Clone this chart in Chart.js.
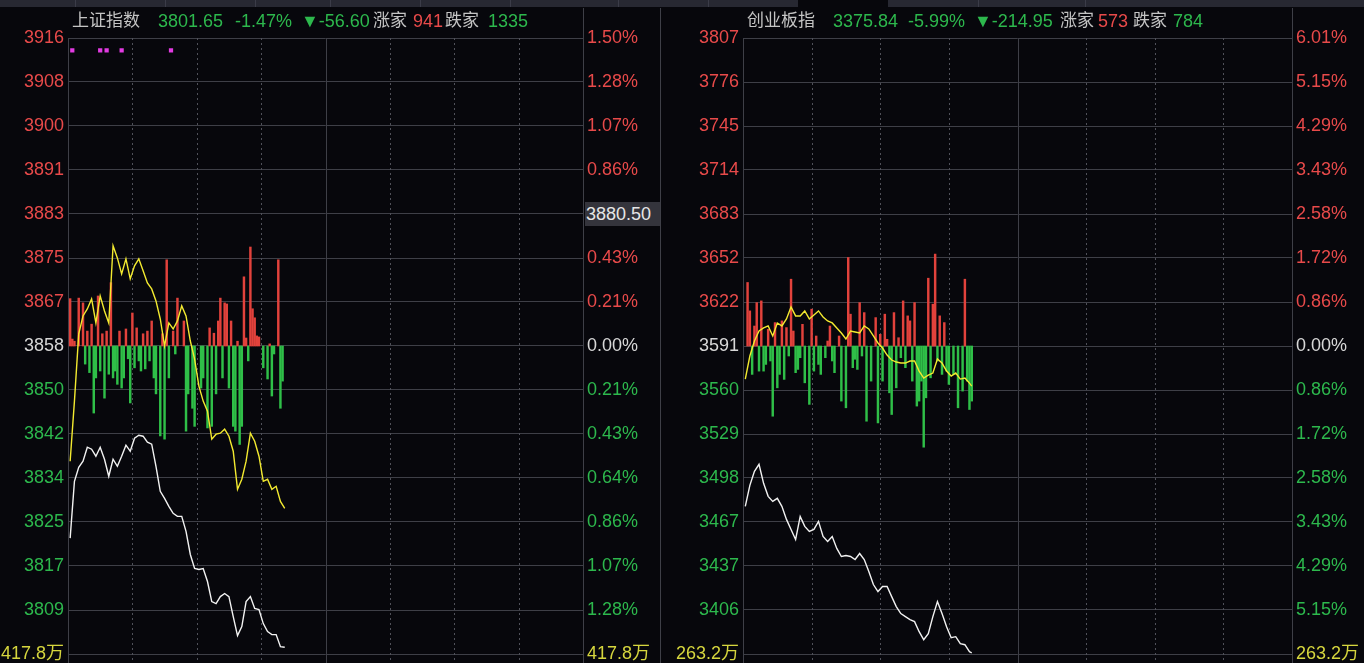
<!DOCTYPE html>
<html>
<head>
<meta charset="utf-8">
<script src="https://cdn.jsdelivr.net/npm/chart.js@4.4.1/dist/chart.umd.min.js"></script>
<style>
  html, body { margin:0; padding:0; background:#07070c; overflow:hidden; }
  #wrap { position:relative; width:1364px; height:663px; background:#07070c; overflow:hidden;
          font-family:"Liberation Sans","Noto Sans CJK SC",sans-serif; }
  .toolbar { position:absolute; left:0; top:0; width:1364px; height:7px; background:#272832; }
  .toolbar .sep { position:absolute; top:0; width:1px; height:7px; background:#3b3c48; }
  .toolbar .tab { position:absolute; top:0; height:7px; background:#07070c; }
  canvas { position:absolute; top:0; }
  .vline { position:absolute; top:8px; width:1px; height:655px; background:#3e3f47; }
  .hdr { position:absolute; top:10px; font-size:18px; line-height:22px; white-space:nowrap; }
  .hdr.w { font-size:17px; }
  .g { color:#2db84d; } .r { color:#e84a4a; } .w { color:#c4c4c4; }
  .cross { position:absolute; left:585px; top:202px; width:75px; height:24px; background:#34343c;
           color:#e6e6e6; font-size:18px; line-height:24px; padding-left:1px; box-sizing:border-box; }
</style>
</head>
<body>
<div id="wrap">
  <div class="toolbar">
    <div class="sep" style="left:75px"></div><div class="sep" style="left:165px"></div>
    <div class="sep" style="left:255px"></div><div class="sep" style="left:330px"></div>
    <div class="sep" style="left:420px"></div><div class="sep" style="left:510px"></div>
    <div class="sep" style="left:618px"></div><div class="sep" style="left:708px"></div>
    <div class="tab" style="left:798px;width:90px"></div>
    <div class="sep" style="left:978px"></div><div class="sep" style="left:1085px"></div>
  </div>

  <canvas id="shChart" width="660" height="680" style="left:0"></canvas>
  <canvas id="cyChart" width="704" height="680" style="left:660px"></canvas>
  <div class="vline" style="left:660px"></div>

  <!-- 上证指数 header -->
  <span class="hdr w" style="left:72px">上证指数</span>
  <span class="hdr g" style="left:158px">3801.65</span>
  <span class="hdr g" style="left:235px">-1.47%</span>
  <span class="hdr g" style="left:301px">▼-56.60</span>
  <span class="hdr w" style="left:373px">涨家</span>
  <span class="hdr r" style="left:413px">941</span>
  <span class="hdr w" style="left:445px">跌家</span>
  <span class="hdr g" style="left:488px">1335</span>

  <!-- 创业板指 header -->
  <span class="hdr w" style="left:747px">创业板指</span>
  <span class="hdr g" style="left:833px">3375.84</span>
  <span class="hdr g" style="left:908px">-5.99%</span>
  <span class="hdr g" style="left:974px">▼-214.95</span>
  <span class="hdr w" style="left:1060px">涨家</span>
  <span class="hdr r" style="left:1098px">573</span>
  <span class="hdr w" style="left:1133px">跌家</span>
  <span class="hdr g" style="left:1173px">784</span>

  <div class="cross">3880.50</div>
</div>

<script>
/* ════════════════════════════
   DATA — 上证指数
════════════════════════════ */
const SH_PREV = 3858.25;
const SH_TOP_PCT = 1.50;
const SH_MIN = [1,3,5,7,9,11,13,15,17,19,21,23,25,27,29,31,33,35,37,39,41,43,45,47,49,51,
  53,55,57,59,61,63,65,67,69,71,73,75,77,79,81,83,85,87,89,91,93,95,97,99,101];
const SH_PRICE = [3822.15,3832.83,3835.47,3836.60,3839.23,3838.86,3837.54,3839.23,3836.97,3833.77,
  3836.97,3835.65,3837.54,3839.61,3838.48,3840.93,3841.49,3841.30,3840.17,3839.80,
  3835.65,3830.95,3829.63,3828.12,3826.80,3826.24,3826.24,3823.41,3819.08,3816.45,
  3816.26,3816.45,3814.00,3810.23,3809.86,3811.17,3811.74,3811.17,3807.41,3803.83,
  3805.53,3810.23,3811.17,3808.92,3808.73,3806.09,3804.58,3804.02,3804.02,3801.76,3801.65];
const SH_AVG = [3836.60,3847.89,3860.51,3863.90,3865.22,3867.10,3862.58,3867.67,3864.84,3862.58,
  3877.08,3874.80,3871.80,3874.63,3870.87,3873.31,3874.63,3872.37,3870.11,3868.98,
  3866.72,3863.33,3858.25,3862.58,3861.45,3862.96,3865.78,3863.90,3859.19,3855.80,
  3850.72,3847.89,3846.01,3840.74,3841.68,3841.87,3842.62,3841.30,3838.48,3831.32,
  3833.21,3836.60,3841.87,3840.36,3837.54,3832.83,3833.21,3831.32,3831.89,3829.06,3827.75];
const SH_BAR_MIN = [1,2,3,5,7,8,9,10,11,12,13,14,15,16,17,18,19,20,21,22,23,24,25,26,27,28,29,30,
  31,32,33,34,35,36,37,38,39,40,41,43,44,45,46,47,49,50,51,54,55,56,58,59,62,63,65,66,67,68,69,70,
  71,72,73,74,75,76,77,78,79,80,81,82,83,84,85,86,87,88,89,91,93,94,95,96,98,99,100];
const SH_BAR_VAL = [8.9,1.3,0.9,9.0,8.1,-3.4,2.8,-5.0,4.1,-12.6,-6.0,9.4,-4.7,2.3,-9.8,2.8,-5.3,11.9,
  -6.0,-4.7,-7.2,2.8,-7.9,-6.0,3.2,-2.4,-10.7,6.2,-4.1,3.4,-2.8,-4.7,2.3,-4.3,2.8,-2.8,4.7,-6.0,-9.0,
  -16.9,2.3,-17.5,16.2,-6.0,2.8,-1.5,9.0,4.7,-16.0,-9.0,-11.7,-15.1,-7.9,-6.0,-15.4,3.4,-15.1,2.4,
  -9.0,4.7,9.0,-6.0,8.1,7.9,-7.9,4.7,-15.1,-16.0,0.9,-18.5,-15.1,13.0,1.5,-2.8,18.6,7.0,5.3,1.9,1.7,
  -4.1,-6.2,0.4,-9.4,-1.5,16.2,-11.7,-6.6];
const SH_MARK_MIN = [2,15,18,25,48];
const SH_MARK_VAL = [3913.8,3913.8,3913.8,3913.8,3913.8];
const SH_LEFT_LABELS = ['3916','3908','3900','3891','3883','3875','3867','3858',
  '3850','3842','3834','3825','3817','3809','417.8万'];
const SH_RIGHT_LABELS = ['1.50%','1.28%','1.07%','0.86%','0.64%','0.43%','0.21%','0.00%',
  '0.21%','0.43%','0.64%','0.86%','1.07%','1.28%','417.8万'];

/* ════════════════════════════
   DATA — 创业板指
════════════════════════════ */
const CY_PREV = 3590.79;
const CY_TOP_PCT = 6.01;
const CY_MIN = [1,3,5,7,9,11,13,15,17,19,21,23,25,27,29,31,33,35,37,39,41,43,45,47,49,51,
  53,55,57,59,61,63,65,67,69,71,73,75,77,79,81,83,85,87,89,91,93,95,97,99,100];
const CY_PRICE = [3478.42,3493.17,3503.00,3507.92,3494.57,3485.44,3481.93,3484.04,3478.42,3469.29,
  3462.27,3455.25,3471.40,3464.38,3460.86,3462.27,3467.89,3457.35,3453.84,3457.35,
  3448.93,3443.31,3444.01,3443.31,3441.20,3445.41,3441.20,3432.77,3423.64,3418.73,
  3422.24,3422.24,3415.21,3408.19,3403.28,3401.17,3399.06,3397.66,3390.63,3385.02,
  3389.23,3401.17,3411.70,3403.28,3394.15,3386.42,3387.12,3382.21,3381.50,3376.59,3375.84];
const CY_AVG = [3567.61,3583.77,3594.30,3601.32,3603.43,3604.84,3597.81,3606.94,3604.84,3609.75,
  3618.18,3611.86,3611.86,3615.37,3609.75,3612.56,3615.37,3611.16,3608.35,3606.94,
  3603.43,3599.92,3595.71,3601.32,3600.62,3599.92,3604.84,3602.73,3597.81,3592.90,
  3589.39,3584.47,3580.96,3579.55,3578.85,3578.85,3580.26,3580.26,3573.23,3568.32,
  3570.42,3571.83,3581.66,3578.85,3573.23,3569.72,3571.83,3567.61,3568.32,3564.80,3562.70];
const CY_BAR_MIN = [2,3,4,5,6,7,8,9,10,11,12,13,14,15,16,17,18,19,20,21,22,23,24,25,26,27,29,30,31,
  32,33,34,36,37,38,39,40,42,43,45,46,47,48,49,50,51,52,53,54,56,58,59,60,61,62,63,64,65,66,67,68,
  69,70,71,72,73,74,75,76,77,78,79,80,81,82,83,84,85,86,87,88,89,90,92,94,96,97,98,99,100];
const CY_BAR_VAL = [44.5,24.6,-19.9,14.0,30.4,-17.6,31.6,-17.6,-12.9,11.7,-10.5,-49.2,16.4,-29.3,
  -19.9,17.6,-23.4,12.9,-7.0,46.8,10.5,-18.7,-16.4,-8.2,15.2,-25.8,-40.9,25.8,-17.6,7.0,-12.9,-19.9,
  -8.2,3.5,14.0,-10.5,-18.7,7.0,-38.6,-43.3,62.0,22.3,-15.2,-9.3,-16.4,30.4,-7.0,23.4,-52.7,-24.6,
  19.9,-53.9,8.2,-24.6,22.3,4.7,-32.8,-48.0,23.4,-29.3,5.8,-8.2,31.6,-15.2,21.1,17.6,-24.6,30.4,
  -42.1,-38.6,-24.6,-70.9,-36.3,47.5,-22.3,29.3,64.4,-10.5,21.1,-19.9,16.4,-17.6,-26.9,-19.9,-43.3,
  -31.6,46.8,-24.6,-44.5,-38.6];
const CY_LEFT_LABELS = ['3807','3776','3745','3714','3683','3652','3622','3591',
  '3560','3529','3498','3467','3437','3406','263.2万'];
const CY_RIGHT_LABELS = ['6.01%','5.15%','4.29%','3.43%','2.58%','1.72%','0.86%','0.00%',
  '0.86%','1.72%','2.58%','3.43%','4.29%','5.15%','263.2万'];

// trading minutes, grid every 30 min, noon break at 120
const GRID_MIN = [0,30,60,90,120,150,180,210,240];

/* ════════════════════════════
   COLOURS
════════════════════════════ */
const C_RED = '#e84a4a', C_GREEN = '#2db84d', C_WHITE = '#d8d8d8', C_YELLOW = '#d6d63e';
const BAR_RED = '#e2423c', BAR_GREEN = '#2fbf48';
const GRID = '#3e3f47';
const FONT = '"Liberation Sans","Noto Sans CJK SC",sans-serif';

function labelColor(i) {          // i counts top-to-bottom
  if (i < 7) return C_RED;
  if (i === 7) return C_WHITE;
  if (i < 14) return C_GREEN;
  return C_YELLOW;
}

const frameLines = {
  id: 'frameLines',
  beforeDatasetsDraw(chart) {
    const { ctx, chartArea: a, scales: { x } } = chart;
    ctx.save();
    ctx.lineWidth = 1;
    GRID_MIN.forEach(m => {
      const px = Math.round(x.getPixelForValue(m)) + 0.5;
      const solid = m === 0 || m === 120 || m === 240;
      ctx.strokeStyle = solid ? GRID : '#50515a';
      ctx.setLineDash(solid ? [] : [2, 3]);
      ctx.beginPath();
      ctx.moveTo(px, m === 240 ? 8 : a.top);
      ctx.lineTo(px, chart.height);
      ctx.stroke();
    });
    ctx.restore();
  }
};

function makeChart(id, p) {
  const ticks = [];
  for (let k = -7; k <= 7; k++) ticks.push(p.prev * (1 + p.topPct / 100 * k / 7));
  const yMin = ticks[0], yMax = ticks[14];

  const barData = p.barMin.map((m, i) => ({ x: m, y: [p.prev, p.prev + p.barVal[i]] }));
  const barCols = p.barVal.map(v => v >= 0 ? BAR_RED : BAR_GREEN);

  const datasets = [
    { type: 'line', data: p.min.map((m, i) => ({ x: m, y: p.price[i] })),
      borderColor: '#f2f2f2', borderWidth: 1.4, pointRadius: 0, tension: 0, order: 1 },
    { type: 'line', data: p.min.map((m, i) => ({ x: m, y: p.avg[i] })),
      borderColor: '#f3ea30', borderWidth: 1.4, pointRadius: 0, tension: 0, order: 2 },
    { type: 'bar', data: barData, backgroundColor: barCols, barThickness: 1.8,
      borderWidth: 0, order: 3 },
  ];
  if (p.markMin) {
    datasets.push({ type: 'scatter', data: p.markMin.map((m, i) => ({ x: m, y: p.markVal[i] })),
      pointStyle: 'rect', pointRadius: 3, backgroundColor: '#e23be2', borderWidth: 0, order: 0 });
  }

  const yTicks = s => { s.ticks = ticks.map(v => ({ value: v })); };

  new Chart(document.getElementById(id), {
    type: 'bar',
    data: { datasets },
    options: {
      responsive: false, animation: false, events: [],
      // canvas is 680 tall (clipped at 663); chart area runs 38 → 652
      layout: { padding: { top: 38, bottom: 26, left: 0, right: 0 } },
      plugins: { legend: { display: false }, tooltip: { enabled: false } },
      scales: {
        x: { type: 'linear', min: 0, max: 240, display: false, offset: false },
        y: {
          position: 'left', min: yMin, max: yMax,
          afterBuildTicks: yTicks,
          afterFit: s => { s.width = p.leftW; },
          border: { display: false },
          grid: { color: GRID, lineWidth: 1, drawTicks: false },
          ticks: {
            autoSkip: false, padding: 4,
            font: { family: FONT, size: 18 },
            color: c => labelColor(14 - c.index),
            callback: (v, i) => p.leftLabels[14 - i]
          }
        },
        y2: {
          position: 'right', min: yMin, max: yMax,
          afterBuildTicks: yTicks,
          afterFit: s => { s.width = p.rightW; },
          border: { display: false },
          grid: { display: false, drawTicks: false },
          ticks: {
            autoSkip: false, padding: 4,
            font: { family: FONT, size: 18 },
            color: c => labelColor(14 - c.index),
            callback: (v, i) => p.rightLabels[14 - i]
          }
        }
      }
    },
    plugins: [frameLines]
  });
}

/* ════════════════════════════
   INIT
════════════════════════════ */
makeChart('shChart', {
  prev: SH_PREV, topPct: SH_TOP_PCT, min: SH_MIN, price: SH_PRICE, avg: SH_AVG,
  barMin: SH_BAR_MIN, barVal: SH_BAR_VAL, markMin: SH_MARK_MIN, markVal: SH_MARK_VAL,
  leftLabels: SH_LEFT_LABELS, rightLabels: SH_RIGHT_LABELS, leftW: 68, rightW: 77
});
makeChart('cyChart', {
  prev: CY_PREV, topPct: CY_TOP_PCT, min: CY_MIN, price: CY_PRICE, avg: CY_AVG,
  barMin: CY_BAR_MIN, barVal: CY_BAR_VAL,
  leftLabels: CY_LEFT_LABELS, rightLabels: CY_RIGHT_LABELS, leftW: 83, rightW: 72
});
</script>
</body>
</html>
